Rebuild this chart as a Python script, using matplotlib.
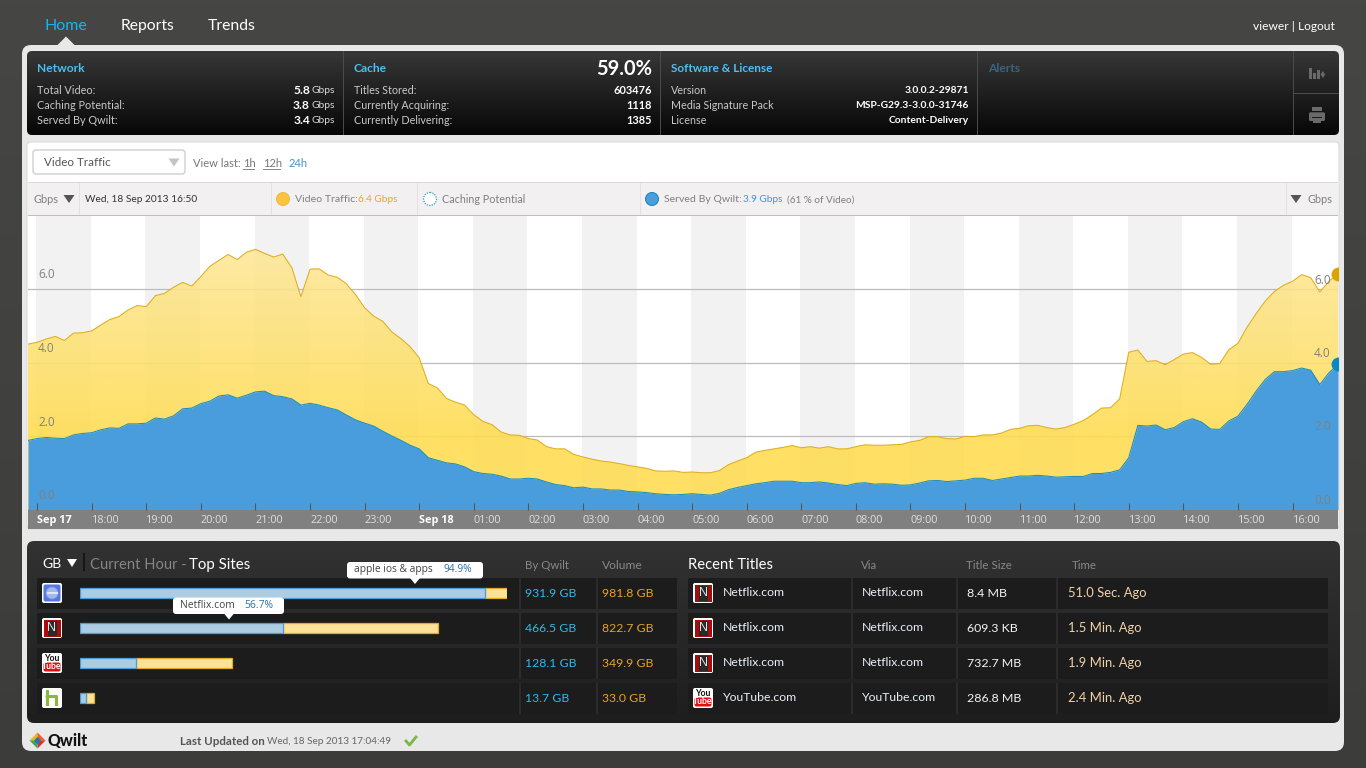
import numpy as np
import pandas as pd
import matplotlib
matplotlib.use("Agg")
import matplotlib.pyplot as plt
import matplotlib.dates as mdates
from matplotlib.patches import FancyBboxPatch, Rectangle, Circle, Polygon

plt.rcParams['font.family'] = ['Lato', 'DejaVu Sans']

# 10 minute samples, 16:50 Sep 17 to 16:50 Sep 18 (Gbps)
video_traffic = [
    4.50, 4.55, 4.64, 4.71, 4.60, 4.80, 4.81, 4.86, 5.02, 5.17, 5.25, 5.43,
    5.55, 5.52, 5.82, 5.88, 6.05, 6.18, 6.08, 6.34, 6.62, 6.78, 6.94, 6.80,
    7.00, 7.08, 6.97, 6.87, 6.95, 6.58, 5.79, 6.54, 6.55, 6.38, 6.32, 6.14,
    5.85, 5.49, 5.26, 5.12, 4.83, 4.65, 4.43, 4.13, 3.43, 3.31, 3.02, 2.92,
    2.84, 2.58, 2.40, 2.31, 2.11, 2.03, 2.02, 1.93, 1.89, 1.71, 1.65, 1.65,
    1.50, 1.43, 1.37, 1.32, 1.29, 1.25, 1.20, 1.16, 1.12, 1.05, 1.04, 1.05,
    1.01, 1.02, 1.00, 1.00, 1.06, 1.22, 1.32, 1.41, 1.56, 1.61, 1.65, 1.69,
    1.74, 1.68, 1.71, 1.67, 1.71, 1.65, 1.65, 1.71, 1.76, 1.75, 1.75, 1.76,
    1.77, 1.84, 1.88, 1.98, 1.98, 1.93, 1.92, 1.99, 1.98, 2.03, 2.03, 2.08,
    2.18, 2.21, 2.28, 2.29, 2.23, 2.19, 2.23, 2.32, 2.42, 2.58, 2.76, 2.77,
    3.01, 4.28, 4.34, 4.03, 4.05, 3.94, 4.08, 4.23, 4.27, 4.14, 3.95, 3.97,
    4.35, 4.52, 4.96, 5.33, 5.67, 5.93, 6.10, 6.21, 6.39, 6.31, 5.92, 6.21,
    6.42,
]
served_by_qwilt = [
    1.88, 1.93, 1.96, 1.94, 1.93, 2.03, 2.07, 2.09, 2.17, 2.22, 2.21, 2.33,
    2.33, 2.35, 2.49, 2.46, 2.55, 2.74, 2.76, 2.88, 2.95, 3.09, 3.12, 3.03,
    3.11, 3.20, 3.22, 3.10, 3.07, 3.01, 2.84, 2.89, 2.84, 2.77, 2.71, 2.57,
    2.44, 2.35, 2.27, 2.13, 2.00, 1.88, 1.75, 1.65, 1.41, 1.34, 1.27, 1.24,
    1.16, 1.03, 0.98, 0.96, 0.91, 0.83, 0.83, 0.85, 0.83, 0.75, 0.68, 0.65,
    0.59, 0.61, 0.56, 0.56, 0.53, 0.53, 0.49, 0.48, 0.46, 0.43, 0.41, 0.40,
    0.41, 0.43, 0.41, 0.39, 0.44, 0.54, 0.60, 0.65, 0.70, 0.73, 0.77, 0.77,
    0.77, 0.73, 0.73, 0.75, 0.72, 0.68, 0.65, 0.71, 0.73, 0.69, 0.70, 0.69,
    0.66, 0.67, 0.72, 0.78, 0.79, 0.76, 0.78, 0.80, 0.85, 0.85, 0.79, 0.83,
    0.87, 0.91, 0.91, 0.93, 0.91, 0.88, 0.89, 0.90, 0.90, 0.98, 0.98, 1.01,
    1.08, 1.41, 2.29, 2.27, 2.30, 2.17, 2.23, 2.39, 2.47, 2.38, 2.19, 2.18,
    2.41, 2.54, 2.86, 3.22, 3.54, 3.75, 3.75, 3.78, 3.85, 3.79, 3.40, 3.72,
    3.95,
]
times = pd.date_range("2013-09-17 16:50", periods=len(video_traffic), freq="10min")
hour_ticks = pd.date_range("2013-09-17 17:00", periods=24, freq="h")
y_ticks = [0, 2, 4, 6]

site_names = ["apple ios & apps", "Netflix.com", "YouTube.com", "Hulu.com"]
site_qwilt = [931.9, 466.5, 128.1, 13.7]
site_volume = [981.8, 822.7, 349.9, 33.0]

title_sites = ["Netflix.com", "Netflix.com", "Netflix.com", "YouTube.com"]
title_sizes = ["8.4 MB", "609.3 KB", "732.7 MB", "286.8 MB"]
title_times = ["51.0 Sec. Ago", "1.5 Min. Ago", "1.9 Min. Ago", "2.4 Min. Ago"]

network_rows = [("Total Video:", "5.8"), ("Caching Potential:", "3.8"), ("Served By Qwilt:", "3.4")]
cache_rows = [("Titles Stored:", "603476"), ("Currently Acquiring:", "1118"), ("Currently Delivering:", "1385")]
license_rows = [("Version", "3.0.0.2-29871"), ("Media Signature Pack", "MSP-G29.3-3.0.0-31746"), ("License", "Content-Delivery")]

fig = plt.figure(figsize=(13.66, 7.68), dpi=100, facecolor="#424241")


def full_axes(z):
    a = fig.add_axes([0, 0, 1, 1], zorder=z)
    a.set_xlim(0, 1366)
    a.set_ylim(768, 0)
    a.axis("off")
    return a


def px_axes(x0, y0, x1, y1, z):
    return fig.add_axes([x0 / 1366, 1 - y1 / 768, (x1 - x0) / 1366, (y1 - y0) / 768], zorder=z)


bg = full_axes(0)
fg = full_axes(5)


def box(a, x0, y0, x1, y1, color, r=0, ec="none", lw=0, z=1):
    if r:
        p = FancyBboxPatch((x0 + r, y0 + r), x1 - x0 - 2 * r, y1 - y0 - 2 * r,
                           boxstyle=f"round,pad={r},rounding_size={r}", fc=color, ec=ec, lw=lw, zorder=z)
    else:
        p = Rectangle((x0, y0), x1 - x0, y1 - y0, fc=color, ec=ec, lw=lw, zorder=z)
    a.add_patch(p)
    return p


def vgrad(a, x0, y0, x1, y1, top, bottom, r=0, z=2):
    c0 = np.array(matplotlib.colors.to_rgb(top))
    c1 = np.array(matplotlib.colors.to_rgb(bottom))
    g = np.linspace(0, 1, 128)[:, None, None]
    im = a.imshow(c0 + (c1 - c0) * g, extent=[x0, x1, y1, y0], aspect="auto", zorder=z)
    if r:
        clip = box(a, x0, y0, x1, y1, "none", r=r, z=z)
        im.set_clip_path(clip)
    a.set_xlim(0, 1366)
    a.set_ylim(768, 0)


def t(x, y, s, color="#cccccc", px=12, ha="left", weight="normal", family=None):
    kw = {"family": family} if family else {}
    return fg.text(x, y + 0.7, s, color=color, fontsize=px * 0.72, ha=ha, va="center", weight=weight, **kw)


def tri(a, x, y, w, h, color, up=False, z=6):
    s = -1 if up else 1
    a.add_patch(Polygon([(x - w / 2, y - s * h / 2), (x + w / 2, y - s * h / 2), (x, y + s * h / 2)],
                        fc=color, ec="none", zorder=z))


def icon_netflix(x, y):
    box(fg, x, y, x + 20, y + 20, "white", r=2, z=3)
    box(fg, x + 1.5, y + 1.5, x + 18.5, y + 18.5, "#a80c0c", z=4)
    box(fg, x + 5.5, y + 2.5, x + 14.5, y + 17.5, "#2a2a2a", z=4)
    fg.text(x + 10, y + 10.3, "N", color="#e4e4e4", fontsize=9, ha="center", va="center", zorder=6,
            family="Liberation Sans")


def icon_youtube(x, y):
    box(fg, x, y, x + 20, y + 20, "white", r=2, z=3)
    box(fg, x + 1.5, y + 9.5, x + 18.5, y + 18.5, "#e01010", r=2, z=4)
    fg.text(x + 10, y + 5.2, "You", color="#111111", fontsize=6.2, ha="center", va="center", weight="bold", zorder=6)
    fg.text(x + 10, y + 13.8, "Tube", color="white", fontsize=6.2, ha="center", va="center", weight="bold", zorder=6)


def icon_apple(x, y):
    box(fg, x, y, x + 20, y + 20, "white", r=2, z=3)
    box(fg, x + 1.5, y + 1.5, x + 18.5, y + 18.5, "#5577e0", r=2, z=4)
    fg.add_patch(Circle((x + 10, y + 10), 6, fc="#a4b8ef", ec="#7f98e6", lw=0.6, zorder=5))
    box(fg, x + 4.5, y + 9, x + 15.5, y + 11, "#dfe7fa", z=6)


def icon_hulu(x, y):
    box(fg, x, y, x + 20, y + 20, "white", r=2, z=3)
    box(fg, x + 3.5, y + 2, x + 7, y + 18, "#84bb3a", z=4)
    box(fg, x + 12.5, y + 9, x + 16, y + 18, "#84bb3a", z=4)
    box(fg, x + 3.5, y + 7, x + 16, y + 10, "#84bb3a", r=1.4, z=4)


# page chrome
vgrad(bg, 0, 0, 1366, 768, "#464645", "#3c3c3b", z=0)
box(bg, 22, 45, 1344, 751, "#e8e8e8", r=9)
tri(bg, 66, 41, 18, 9, "#e8e8e8", up=True, z=2)
vgrad(bg, 27, 51, 1339, 135, "#373737", "#070707", r=5)
for x in [343, 660, 977, 1293]:
    box(bg, x, 51, x + 1, 135, "#4a4a4a", z=3)
box(bg, 1293, 93, 1339, 94, "#4a4a4a", z=3)

# control + legend rows
box(bg, 27, 142, 1339, 529, "white", r=4, ec="#d8d8d8", lw=0.7)
box(bg, 28, 182, 1338, 216, "#f2f0f1", z=2)
box(bg, 28, 182, 1338, 183, "#d9d9d9", z=3)
box(bg, 28, 215, 1338, 216, "#bdbdbd", z=3)
for x in [79, 271, 417, 640, 1286]:
    box(bg, x, 183, x + 1, 215, "#e2e2e2", z=3)
box(bg, 33, 150, 185, 174, "white", r=3, ec="#cfcfcf", lw=1, z=3)
tri(bg, 174, 162.5, 11, 8, "#c4c4c4", z=4)
box(bg, 27.5, 510, 1338, 529, "#808080", z=2)
box(bg, 27.5, 509, 1338, 510, "#a8a8a8", z=3)

# bottom panel
vgrad(bg, 27, 541, 1340, 723, "#323232", "#1e1e1e", r=7)
for y0 in [578, 613, 648, 683]:
    box(bg, 37, y0, 677, y0 + 30.5, "#1c1c1c", z=4)
    box(bg, 688, y0, 1328, y0 + 30.5, "#1c1c1c", z=4)
    for x in [518.5, 595.5, 851, 956, 1056]:
        box(bg, x, y0, x + 2, y0 + 30.5, "#2b2b2b", z=5)
box(bg, 83, 553, 85, 571, "#161616", z=4)

# main chart
ax = px_axes(28, 215.5, 1338, 509.5, 1)
ax.patch.set_alpha(0)
for s in ax.spines.values():
    s.set_visible(False)

for h in hour_ticks[::2]:
    ax.axvspan(h - pd.Timedelta(minutes=1), h + pd.Timedelta(minutes=59), color="#f2f2f2", lw=0, zorder=0.2)
for v in y_ticks[1:]:
    ax.axhline(v, color="#bcbcbc", lw=0.9, zorder=0.5)

# yellow area: gradient image clipped to the area under the video line
x_num = mdates.date2num(times)
video_poly = ax.fill_between(times, video_traffic, 0, color="none", lw=0, zorder=1)
levels = np.linspace(7.1, 0, 256)
f = np.clip((7.1 - levels) / 5.1, 0, 1)[:, None, None]
top_c = np.array([253, 231, 152, 224]) / 255
bot_c = np.array([255, 220, 80, 224]) / 255
yellow = ax.imshow(top_c + (bot_c - top_c) * f, extent=[x_num[0], x_num[-1], 0, 7.1], aspect="auto", zorder=1)
yellow.set_clip_path(video_poly.get_paths()[0], transform=ax.transData)
ax.fill_between(times, served_by_qwilt, 0, color="#4a9ddc", lw=0, zorder=1.5)
ax.plot(times, video_traffic, color="#dfae1e", lw=0.75, zorder=2)
ax.plot(times, served_by_qwilt, color="#1790c4", lw=0.75, zorder=2)
ax.scatter(times[-1], video_traffic[-1], s=100, color="#d9a300", lw=0, zorder=3)
ax.scatter(times[-1], served_by_qwilt[-1], s=100, color="#0a88c2", lw=0, zorder=3)
ax.set_xlim(times[0], times[-1])
ax.set_ylim(0, 8)

ax.set_axisbelow(False)
ax.set_yticks([])
ax.set_xticks(hour_ticks)
labels = ["Sep 17" if h.hour == 17 else "Sep 18" if h.hour == 0 else h.strftime("%H:%M") for h in hour_ticks]
ax.set_xticklabels(labels, ha="left", family="Open Sans", fontsize=7.8, color="#dfdfdf")
for lab, h in zip(ax.get_xticklabels(), hour_ticks):
    if h.hour in (17, 0):
        lab.set_color("white")
        lab.set_fontweight("bold")
ax.tick_params(axis="x", direction="in", length=5, width=0.8, color="#555555", pad=4)

for v in y_ticks:
    ax.annotate(f"{v:.1f}", (0, v), xycoords=("axes fraction", "data"), xytext=(10, 14), textcoords="offset pixels",
                color="#808080", fontsize=8.5, family="Open Sans", va="center", zorder=4)
    ax.annotate(f"{v:.1f}", (1, v), xycoords=("axes fraction", "data"), xytext=(-24, 9), textcoords="offset pixels",
                color="#808080", fontsize=8.5, family="Open Sans", va="center", zorder=4)

# top sites bars
bars = px_axes(80, 575.5, 507, 715.5, 2)
bars.axis("off")
bars.set_xlim(0, max(site_volume))
bars.set_ylim(3.5, -0.5)
rows = np.arange(len(site_names))
bars.barh(rows, site_qwilt, height=0.31, color="#abcce1", edgecolor="#4a9ddc", lw=0.9, zorder=3)
bars.barh(rows, np.array(site_volume) - np.array(site_qwilt), left=site_qwilt, height=0.31,
          color="#fde196", edgecolor="#e3a92c", lw=0.9, zorder=2)

# header text
t(45, 25, "Home", "#1ab4ee", 16)
t(121, 25, "Reports", "white", 15.6)
t(208, 25, "Trends", "white", 15.8)
t(1335, 26, "viewer | Logout", "white", 12, ha="right")

t(37, 68, "Network", "#4cc0f2", 12, weight="bold")
t(354, 68, "Cache", "#4cc0f2", 12, weight="bold")
t(652, 68, "59.0%", "white", 20, ha="right", weight="bold")
t(671, 68, "Software & License", "#4cc0f2", 11.7, weight="bold")
t(988, 68, "Alerts", "#3a6580", 12, weight="bold")
row_y = [90, 105, 120]
for y, (lab, val) in zip(row_y, network_rows):
    t(37, y, lab, "#c8c8c8", 10.9)
    t(310, y, val, "white", 12, ha="right", weight="bold")
    t(335, y, "Gbps", "#d8d8d8", 10.3, ha="right")
for y, (lab, val) in zip(row_y, cache_rows):
    t(354, y, lab, "#c8c8c8", 10.8)
    t(652, y, val, "white", 11, ha="right", weight="bold")
for y, (lab, val) in zip(row_y, license_rows):
    t(671, y, lab, "#c8c8c8", 10.7)
    t(969, y, val, "white", 10.3, ha="right", weight="bold")

# bars + print icons
for x0, x1, top in [(1309, 1312, 67.7), (1313, 1316, 73), (1317, 1320, 69.7)]:
    box(fg, x0, top, x1, 79, "#6a6a6a", z=3)
fg.add_patch(Polygon([(1320.5, 74.5), (1323, 71), (1325, 74.5), (1323, 78)], fc="#6a6a6a", ec="none", zorder=3))
box(fg, 1312, 106.7, 1322, 111, "#6a6a6a", z=3)
box(fg, 1309, 112.3, 1325, 121, "#6a6a6a", r=1.5, z=3)
box(fg, 1312, 116.5, 1322, 117.5, "#1a1a1a", z=4)
box(fg, 1313, 117.5, 1321, 123, "#6a6a6a", z=4)

# controls text
t(44, 162, "Video Traffic", "#555555", 11.6)
t(193, 163, "View last:", "#777777", 11.1)
t(243, 163, "1h", "#777777", 11.1)
t(263, 163, "12h", "#777777", 11.1)
t(289, 163, "24h", "#4a90c8", 11.1)
box(fg, 243, 169, 255, 170, "#888888", z=3)
box(fg, 263, 169, 281, 170, "#888888", z=3)

# legend row
t(33, 199, "Gbps", "#808080", 11)
tri(fg, 69, 199, 11, 8, "#555555")
t(85, 199, "Wed, 18 Sep 2013 16:50", "#333333", 10.1)
fg.add_patch(Circle((283, 199), 6.5, fc="#fcc33f", ec="#e9b84a", lw=0.7, zorder=3))
t(295, 199, "Video Traffic:", "#808080", 10.5)
t(358, 199, "6.4 Gbps", "#e8a820", 10)
fg.add_patch(Circle((430, 199), 6.5, fc="white", ec="#3a9bc8", lw=0.9, ls=(0, (1, 1)), zorder=3))
t(442, 199, "Caching Potential", "#808080", 10.7)
fg.add_patch(Circle((652, 199), 6.5, fc="#4a9ddc", ec="#2080b8", lw=0.7, zorder=3))
t(664, 199, "Served By Qwilt:", "#808080", 10.5)
t(743, 199, "3.9 Gbps", "#4a90d8", 10)
t(787, 199, "(61 % of Video)", "#808080", 10)
tri(fg, 1296, 199, 11, 8, "#555555")
t(1333, 199, "Gbps", "#808080", 11, ha="right")

# bottom panel text
t(42, 563, "GB", "white", 14)
tri(fg, 72, 563, 10, 8, "white")
t(90, 564, "Current Hour -", "#868686", 14.8)
t(189, 564, "Top Sites", "white", 15)
t(525, 565, "By Qwilt", "#888888", 11.5)
t(602, 565, "Volume", "#888888", 12)
t(688, 564, "Recent Titles", "white", 14.8)
t(861, 565, "Via", "#888888", 11.5)
t(966, 565, "Title Size", "#888888", 11.5)
t(1072, 565, "Time", "#888888", 11.5)

row_text_y = [592.5, 627.5, 662.5, 697.5]
for y, q, v in zip(row_text_y, site_qwilt, site_volume):
    t(525, y, f"{q:.1f} GB", "#2fb9ea", 12.3)
    t(602, y, f"{v:.1f} GB", "#e6a22a", 12.3)
for y, site, size, ago in zip(row_text_y, title_sites, title_sizes, title_times):
    t(723, y - 1, site, "#e8f0f8", 12.2)
    t(862, y - 1, site, "#e8f0f8", 12.2)
    t(967, y, size, "#f4f4f4", 12.4)
    t(1067.5, y, ago, "#f0d2aa", 13)

icon_apple(42, 583)
icon_netflix(42, 618)
icon_youtube(42, 653)
icon_hulu(42, 688)
icon_netflix(693, 583)
icon_netflix(693, 618)
icon_netflix(693, 653)
icon_youtube(693, 688)

# tooltips
for x0, x1, y0, tip, lab, pct in [(347, 483, 562, 415, site_names[0], site_qwilt[0] / site_volume[0]),
                                  (173, 284, 597.5, 229, site_names[1], site_qwilt[1] / site_volume[1])]:
    box(fg, x0, y0, x1, y0 + 16.5, "white", r=3, z=7)
    fg.add_patch(Polygon([(tip - 5, y0 + 16), (tip + 5, y0 + 16), (tip, y0 + 22)], fc="white", ec="none", zorder=7))
    fg.text(x0 + 7, y0 + 7.5, lab, color="#444444", fontsize=7.4, va="center", zorder=8, family="Open Sans")
    fg.text(x1 - 11, y0 + 7.5, f"{pct * 100:.1f}%", color="#2a70a8", fontsize=7.4, ha="right", va="center", zorder=8,
            family="Open Sans")

# footer
cx, cy = 37.5, 740.5
for pts, c in [([(cx - 8, cy), (cx, cy - 8), (cx, cy)], "#e8b820"), ([(cx, cy - 8), (cx + 8, cy), (cx, cy)], "#e8622a"),
               ([(cx + 8, cy), (cx, cy + 8), (cx, cy)], "#d6322a"), ([(cx, cy + 8), (cx - 8, cy), (cx, cy)], "#3aa84c")]:
    fg.add_patch(Polygon(pts, fc=c, ec="none", zorder=3))
fg.add_patch(Polygon([(cx - 3.5, cy), (cx, cy - 3.5), (cx + 3.5, cy), (cx, cy + 3.5)], fc="#2a70c0", ec="none", zorder=4))
t(47, 740, "Qwilt", "#111111", 16, weight="black")
t(180, 741, "Last Updated on", "#555555", 11.5, weight="bold")
t(267, 741, "Wed, 18 Sep 2013 17:04:49", "#666666", 10)
fg.plot([406, 409.5, 416], [741, 745, 737], color="#7ab648", lw=2, zorder=3)

fig.savefig("out.png", dpi=100, facecolor=fig.get_facecolor())
